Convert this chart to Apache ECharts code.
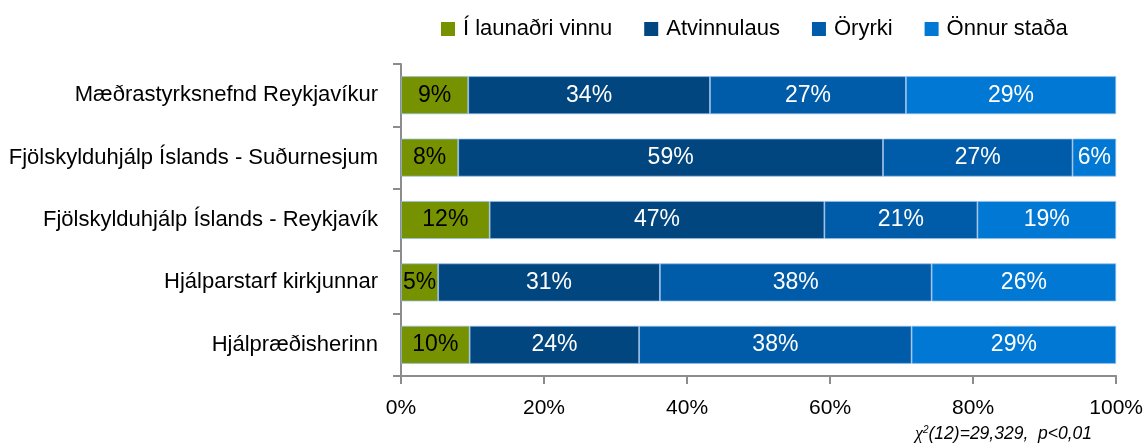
<!DOCTYPE html>
<html>
<head>
<meta charset="utf-8">
<script src="https://cdn.jsdelivr.net/npm/echarts@6/dist/echarts.min.js"></script>
<style>
  html, body { margin: 0; padding: 0; background: #fff; }
  #chart { width: 1146px; height: 444px; }
</style>
</head>
<body>
<div id="chart"></div>
<script>
// flokkar (efst til neðst)
var categories = ['Mæðrastyrksnefnd Reykjavíkur', 'Fjölskylduhjálp Íslands - Suðurnesjum', 'Fjölskylduhjálp Íslands - Reykjavík', 'Hjálparstarf kirkjunnar', 'Hjálpræðisherinn'];
var seriesNames = ['Í launaðri vinnu', 'Atvinnulaus', 'Öryrki', 'Önnur staða'];
var launadri = [9.4, 8.0, 12.4, 5.2, 9.6];
var atvinnulaus = [33.8, 59.4, 46.8, 31.0, 23.7];
var oryrki = [27.4, 26.5, 21.4, 38.0, 38.1];
var onnur = [29.4, 6.1, 19.4, 25.8, 28.6];
var xTicks = [0, 20, 40, 60, 80, 100];

var FONT = '"Liberation Sans", Arial, sans-serif';
var colors = ['#779200', '#02467F', '#005CA8', '#0078D4'];
var labelColors = ['#000', '#fff', '#fff', '#fff'];
var allData = [launadri, atvinnulaus, oryrki, onnur];

function StackChart() {
   var myChart = echarts.init(document.getElementById('chart'));
   var series = seriesNames.map(function (name, i) {
       return {
           name: name,
           type: 'bar',
           stack: 'total',
           barWidth: 38,
           data: allData[i].slice().reverse(),
           itemStyle: {
               color: colors[i],
               borderColor: 'rgba(150,190,235,0.9)',
               borderWidth: 0.8
           },
           label: {
               show: true,
               position: 'inside',
               formatter: function (p) { return Math.round(p.value) + '%'; },
               color: labelColors[i],
               fontFamily: FONT,
               fontSize: 23
           }
       };
   });
   var option = {
       animation: false,
       textStyle: { fontFamily: FONT },
       legend: {
           data: seriesNames,
           top: 13,
           left: 436,
           itemWidth: 14,
           itemHeight: 14,
           itemGap: 32,
           icon: 'rect',
           itemStyle: { borderWidth: 0 },
           textStyle: { fontSize: 22, color: '#000', fontFamily: FONT, padding: [0, 0, 0, 3] }
       },
       grid: {
           left: 401,
           right: 29,
           top: 64,
           bottom: 68,
           containLabel: false
       },
       xAxis: {
           type: 'value',
           min: 0,
           max: 100,
           interval: 20,
           axisLine: { show: true, lineStyle: { color: '#8c8c8c', width: 2 } },
           axisTick: { show: true, length: 8, inside: false, lineStyle: { color: '#8c8c8c', width: 2 } },
           splitLine: { show: false },
           axisLabel: {
               margin: 22,
               color: '#000',
               fontSize: 21,
               fontFamily: FONT,
               formatter: function (v) { return xTicks.indexOf(v) >= 0 ? v + '%' : ''; }
           }
       },
       yAxis: {
           type: 'category',
           data: categories.slice().reverse(),
           axisLine: { show: true, lineStyle: { color: '#8c8c8c', width: 2 } },
           axisTick: { show: true, length: 8, lineStyle: { color: '#8c8c8c', width: 2 } },
           axisLabel: { margin: 23, color: '#000', fontSize: 22, fontFamily: FONT }
       },
       graphic: [{
           type: 'text',
           right: 54,
           top: 425,
           style: {
               rich: {
                   c: { fontFamily: 'serif', fontStyle: 'italic', fontSize: 18, fill: '#000' },
                   s: { fontFamily: FONT, fontStyle: 'italic', fontSize: 10, fill: '#000', verticalAlign: 'top', padding: [0, 0, 8, 0] },
                   t: { fontFamily: FONT, fontStyle: 'italic', fontSize: 17.5, fill: '#000' }
               },
               text: '{c|χ}{s|2}{t|(12)=29,329,  p<0,01}'
           }
       }],
       series: series
   }; // option
   myChart.setOption(option);
   window.addEventListener('resize', myChart.resize);
}

StackChart();
</script>
</body>
</html>
